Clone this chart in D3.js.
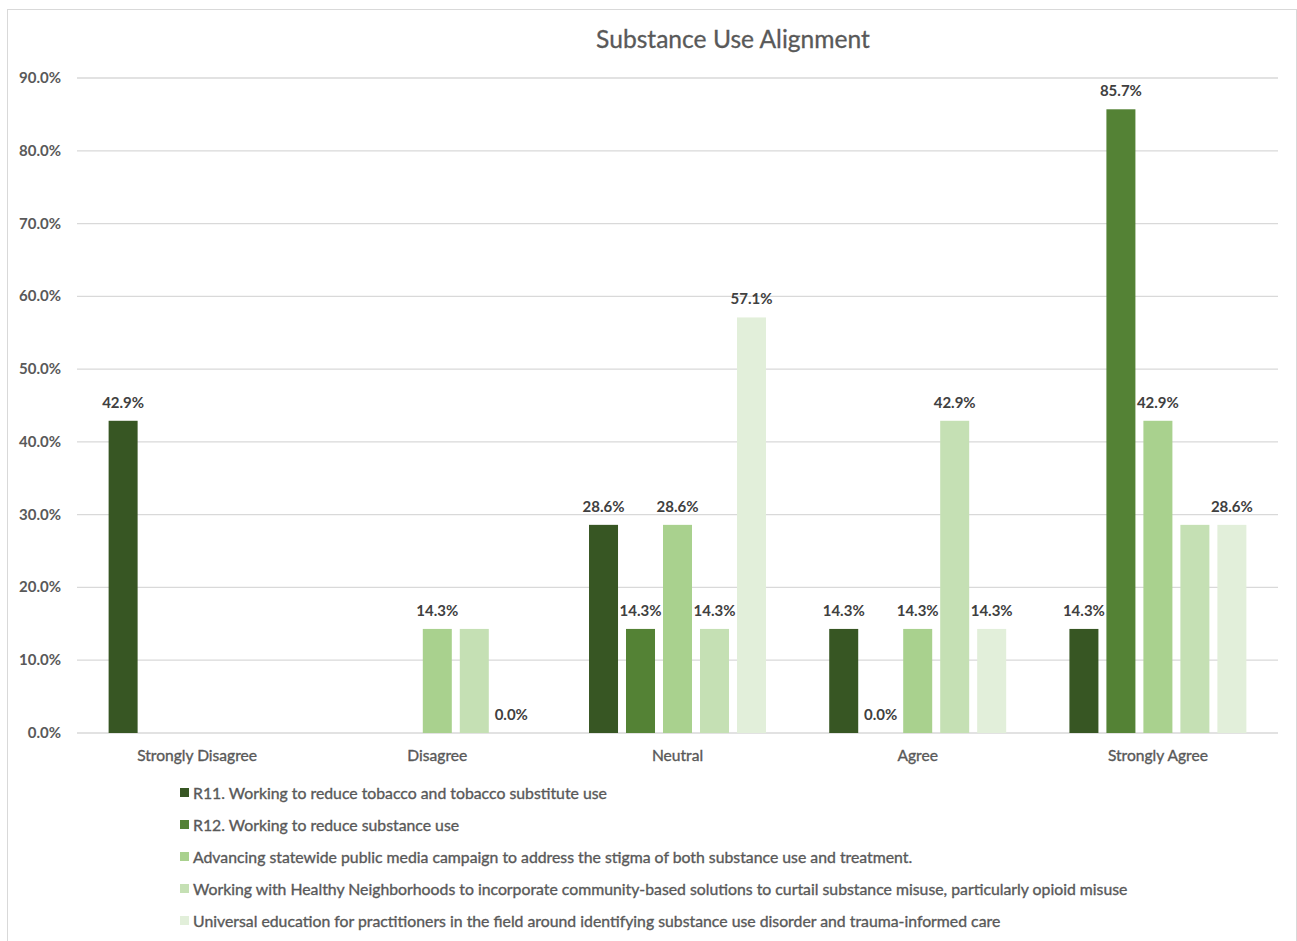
<!DOCTYPE html>
<html>
<head>
<meta charset="utf-8">
<script src="https://cdn.jsdelivr.net/npm/d3@7"></script>
<style>
  body { margin: 0; background: #fff; }
  svg { font-family: Lato, "Open Sans", sans-serif; }
  .grid line { stroke: #d9d9d9; stroke-width: 1.3; }
  .tick-label { fill: #595959; font-size: 15px; font-weight: bold; }
  .cat-label { fill: #595959; font-size: 15.6px; stroke: #595959; stroke-width: 0.35; }
  .val-label { fill: #404040; font-size: 15px; font-weight: bold; }
  .legend-text { fill: #595959; font-size: 15.8px; stroke: #595959; stroke-width: 0.35; }
</style>
</head>
<body>
<svg id="chart" width="1297" height="941"></svg>
<script>
const WIDTH = 1297;
const HEIGHT = 941;

const categories = ["Strongly Disagree", "Disagree", "Neutral", "Agree", "Strongly Agree"];
const seriesNames = [
    "R11. Working to reduce tobacco and tobacco substitute use",
    "R12. Working to reduce substance use",
    "Advancing statewide public media campaign to address the stigma of both substance use and treatment.",
    "Working with Healthy Neighborhoods to incorporate community-based solutions to curtail substance misuse, particularly opioid misuse",
    "Universal education for practitioners in the field around identifying substance use disorder and trauma-informed care"
];
const seriesColors = ["#375623", "#548235", "#a9d18e", "#c5e0b4", "#e2efda"];

// one array per series, value per category (null = no entry)
const r11 = [42.9, null, 28.6, 14.3, 14.3];
const r12 = [null, null, 14.3, 0.0, 85.7];
const advancing = [null, 14.3, 28.6, 14.3, 42.9];
const healthy = [null, 14.3, 14.3, 42.9, 28.6];
const universal = [null, 0.0, 57.1, 14.3, 28.6];
const seriesValues = [r11, r12, advancing, healthy, universal];

// labels the original leaves out where they would collide ("series|category")
const hiddenLabels = ["3|Disagree", "3|Strongly Agree"];

const yTicks = [0, 10, 20, 30, 40, 50, 60, 70, 80, 90];

const margin = { left: 77, right: 19, top: 78, bottom: 208 };

const svg = d3.select("#chart");

// outer frame
svg.append("rect")
    .attr("x", 7.5).attr("y", 9.5)
    .attr("width", WIDTH - 8).attr("height", HEIGHT - 9)
    .attr("fill", "none")
    .attr("stroke", "#d9d9d9");

svg.append("text")
    .attr("x", 733).attr("y", 48)
    .attr("text-anchor", "middle")
    .attr("fill", "#595959")
    .attr("stroke", "#595959")
    .attr("stroke-width", 0.3)
    .style("font-size", "24.6px")
    .text("Substance Use Alignment");

const y = d3.scaleLinear()
    .domain([0, 90])
    .range([HEIGHT - margin.bottom, margin.top]);

const x0 = d3.scaleBand()
    .domain(categories)
    .range([margin.left, WIDTH - margin.right])
    .paddingInner(0.23)
    .paddingOuter(0.115);

const x1 = d3.scaleBand()
    .domain(d3.range(seriesNames.length))
    .range([0, x0.bandwidth()])
    .paddingInner(0.216)
    .paddingOuter(0.108);

// gridlines
svg.append("g")
    .attr("class", "grid")
    .selectAll("line")
    .data(yTicks)
    .join("line")
    .attr("x1", margin.left)
    .attr("x2", WIDTH - margin.right)
    .attr("y1", d => y(d))
    .attr("y2", d => y(d));

// y tick labels
svg.append("g")
    .selectAll("text")
    .data(yTicks)
    .join("text")
    .attr("class", "tick-label")
    .attr("x", 61)
    .attr("y", d => y(d) + 5)
    .attr("text-anchor", "end")
    .text(d => d.toFixed(1) + "%");

// bars
const flat = [];
categories.forEach((cat, ci) => {
    seriesValues.forEach((vals, si) => {
        if (vals[ci] !== null) flat.push({ cat, si, v: vals[ci] });
    });
});

svg.append("g")
    .selectAll("rect")
    .data(flat)
    .join("rect")
    .attr("x", d => x0(d.cat) + x1(d.si))
    .attr("width", x1.bandwidth())
    .attr("y", d => y(d.v))
    .attr("height", d => y(0) - y(d.v))
    .attr("fill", d => seriesColors[d.si]);

svg.append("g")
    .selectAll("text")
    .data(flat.filter(d => !hiddenLabels.includes(d.si + "|" + d.cat)))
    .join("text")
    .attr("class", "val-label")
    .attr("x", d => x0(d.cat) + x1(d.si) + x1.bandwidth() / 2)
    .attr("y", d => y(d.v) - 13)
    .attr("text-anchor", "middle")
    .text(d => d.v.toFixed(1) + "%");

// category labels
svg.append("g")
    .selectAll("text")
    .data(categories)
    .join("text")
    .attr("class", "cat-label")
    .attr("x", d => x0(d) + x0.bandwidth() / 2)
    .attr("y", y(0) + 28)
    .attr("text-anchor", "middle")
    .text(d => d);

// legend
const legend = svg.append("g")
    .selectAll("g")
    .data(seriesNames)
    .join("g")
    .attr("transform", (d, i) => `translate(180, ${793 + i * 32})`);

legend.append("rect")
    .attr("x", 0).attr("y", -5)
    .attr("width", 9).attr("height", 9)
    .attr("fill", (d, i) => seriesColors[i]);

legend.append("text")
    .attr("class", "legend-text")
    .attr("x", 13)
    .attr("y", 5.5)
    .text(d => d);
</script>
</body>
</html>
